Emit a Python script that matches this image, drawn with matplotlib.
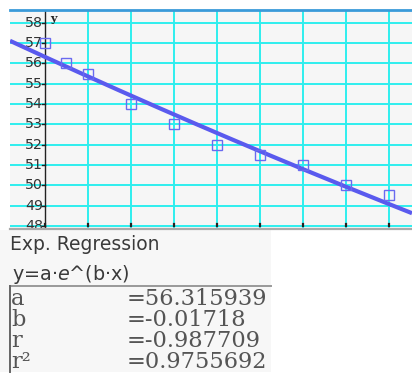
import numpy as np
import matplotlib
matplotlib.use("Agg")
import matplotlib.pyplot as plt
from matplotlib.lines import Line2D
from matplotlib.patches import Rectangle

# ---- data ----
x_data = [0, 0.5, 1, 2, 3, 4, 5, 6, 7, 8]
y_data = [57, 56, 55.5, 54, 53, 52, 51.5, 51, 50, 49.5]
a_coef = 56.315939
b_coef = -0.01718
y_ticks = [48, 49, 50, 51, 52, 53, 54, 55, 56, 57, 58]
x_ticks = [0, 1, 2, 3, 4, 5, 6, 7, 8]
title_text = "Exp. Regression"
formula_text = "y=a·$\\mathit{e}$^(b·x)"
stat_names = ["a", "b", "r", "r²"]
stat_values = ["=56.315939", "=-0.01718", "=-0.987709", "=0.9755692"]

W, H = 412, 392
fig = plt.figure(figsize=(W / 100, H / 100), dpi=100)
fig.patch.set_facecolor("white")

def fx(px):
    return px / W

def fy(py):
    return 1 - py / H

# ---- graph ----
ax = fig.add_axes([fx(10), fy(228), fx(412) - fx(10), fy(11) - fy(228)])
ax.set_facecolor("#F6F6F6")
ax.set_xlim(-0.815, 8.543)
ax.set_ylim(47.90, 58.576)
for s in ax.spines.values():
    s.set_visible(False)
ax.set_xticks([])
ax.set_yticks([])

grid_c = "#2EEEEE"
for v in y_ticks:
    ax.axhline(v, color=grid_c, lw=1.4, zorder=1)
for v in x_ticks[1:]:
    ax.axvline(v, color=grid_c, lw=1.4, zorder=1)

# y axis
ax.axvline(0, color="#222222", lw=1.0, zorder=2)
for v in y_ticks:
    ax.plot([-0.06, 0], [v, v], color="#222222", lw=1.0, zorder=2)
    ax.text(-0.05, v, str(v), ha="right", va="center", fontsize=10.2,
            color="#333333", zorder=3, clip_on=True)
# x tick marks
for v in x_ticks:
    ax.plot([v, v], [48, 48.12], color="#222222", lw=1.6, zorder=3)

ax.text(0.12, 58.2, "y", fontsize=8, fontweight="bold", family="DejaVu Serif",
        color="#222222", ha="left", va="center", zorder=3)

# regression curve
xs = np.linspace(-0.815, 8.543, 300)
ax.plot(xs, a_coef * np.exp(b_coef * xs), color="#5A5AEE", lw=3.0,
        zorder=4, solid_capstyle="butt")
ax.plot(x_data, y_data, "s", mfc="none", mec="#6A6AF0", ms=6.8, mew=1.0,
        zorder=5, clip_on=False)

# frame lines
fig.add_artist(Line2D([fx(10), fx(412)], [fy(9.5), fy(9.5)], color="#3A9AD9", lw=2))
fig.add_artist(Line2D([fx(10), fx(412)], [fy(228.8), fy(228.8)], color="#AAAAAA", lw=1.6))

# ---- result panel ----
fig.add_artist(Rectangle((fx(0), fy(372)), fx(271), fy(230) - fy(372),
                         transform=fig.transFigure, facecolor="#F7F7F7",
                         edgecolor="none", zorder=0))
fig.add_artist(Line2D([fx(10), fx(271)], [fy(286), fy(286)], color="#999999", lw=1.4))
fig.add_artist(Line2D([fx(10), fx(10)], [fy(286), fy(372)], color="#666666", lw=1.4))

fig.text(fx(10), fy(245), title_text, fontsize=13.5, color="#3A3A3A",
         ha="left", va="center")
fig.text(fx(12), fy(274), formula_text, fontsize=13.8, color="#3A3A3A",
         ha="left", va="center")

row_y = [299, 320, 341, 362]
for name, val, ry in zip(stat_names, stat_values, row_y):
    fig.text(fx(11), fy(ry), name, fontsize=16.2, family="DejaVu Serif",
             color="#555555", ha="left", va="center")
    fig.text(fx(127), fy(ry), val, fontsize=16.2, family="DejaVu Serif",
             color="#555555", ha="left", va="center")

fig.savefig("out.png", dpi=100, facecolor="white")
